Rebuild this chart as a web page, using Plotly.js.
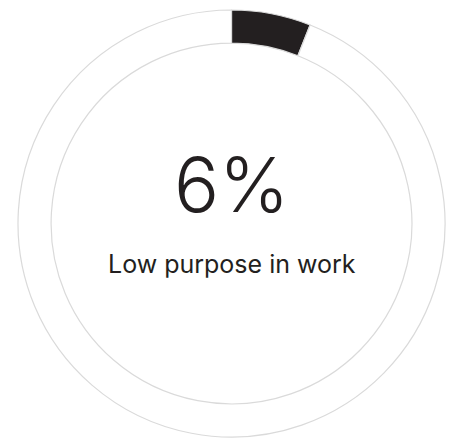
<!DOCTYPE html>
<html>
<head>
<meta charset="utf-8">
<script src="https://cdn.plot.ly/plotly-3.0.1.min.js"></script>
<style>html,body{margin:0;padding:0;background:#fff;}#chart{width:451px;height:438px;}</style>
</head>
<body>
<div id="chart"></div>
<script>
const labels = ["Low purpose in work", "Other"];
const values = [6, 94];
const colors = ["#231f20", "#ffffff"];
const centerValue = "6%";
const centerLabel = "Low purpose in work";

const data = [{
  type: "pie",
  labels: labels,
  values: values,
  hole: 0.845,
  sort: false,
  direction: "clockwise",
  rotation: 0,
  textinfo: "none",
  hoverinfo: "none",
  marker: {colors: colors, line: {color: "#dadada", width: 1.2}},
  showlegend: false
}];

const layout = {
  width: 451, height: 438,
  margin: {l: 18, r: 6, t: 10, b: 1},
  paper_bgcolor: "#fff",
  plot_bgcolor: "#fff",
  showlegend: false,
  annotations: [
    {text: centerValue, x: 0.5, y: 0.592, xref: "paper", yref: "paper", showarrow: false,
     xanchor: "center", yanchor: "middle",
     font: {family: "Inter, Liberation Sans, sans-serif", size: 75, color: "#231f20", weight: 300}},
    {text: centerLabel, x: 0.5, y: 0.404, xref: "paper", yref: "paper", showarrow: false,
     xanchor: "center", yanchor: "middle",
     font: {family: "Inter, Liberation Sans, sans-serif", size: 25, color: "#231f20", weight: 400}}
  ]
};

Plotly.newPlot("chart", data, layout, {displayModeBar: false, staticPlot: true});
</script>
</body>
</html>
